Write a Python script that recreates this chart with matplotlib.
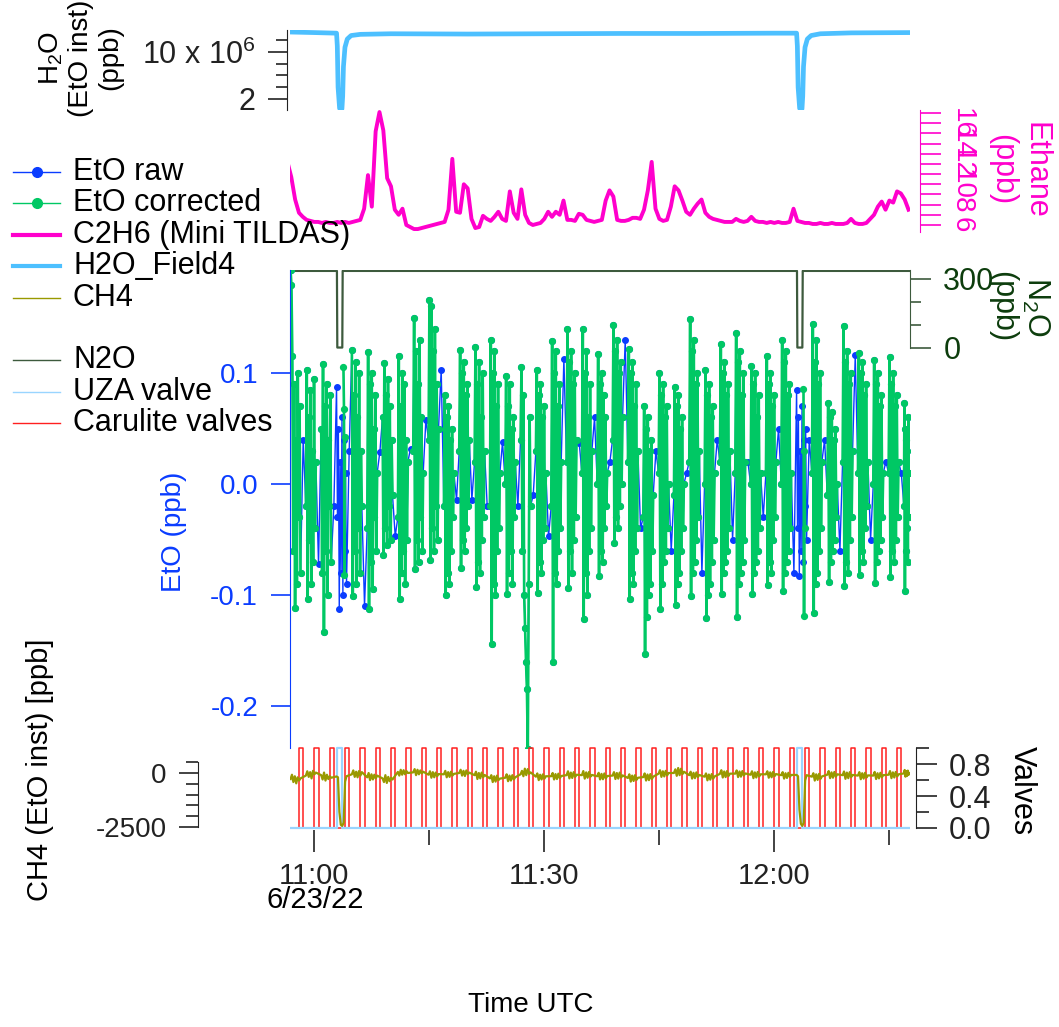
import numpy as np
import matplotlib.pyplot as plt
from matplotlib.lines import Line2D

plt.rcParams['font.family'] = ['Liberation Sans', 'DejaVu Sans']
plt.rcParams['mathtext.fontset'] = 'custom'
plt.rcParams['mathtext.rm'] = 'Liberation Sans'
plt.rcParams['font.size'] = 20
plt.rcParams['axes.unicode_minus'] = False

W, H = 1059, 1027

# time axis: minutes after 11:00 UTC, 6/23/22
XLIM = (-3.17, 77.69)

# instrument cycle: each EtO/CH4 measurement block ends at these minutes
cycle_end = [-2, 0, 2, 4, 6, 8, 10, 12, 14, 16, 18, 20, 22, 24, 26, 28, 30, 32, 34, 36,
             38, 40, 42, 44, 46, 48, 50, 52, 54, 56, 58, 60, 62, 64, 66, 68, 70, 72, 74, 76, 78]
uza_cycles = [4, 64]

# EtO corrected (ppt), one row per block ([] = zero-air block)
eto_corr_ppt = [
    [193, 179, 115, -60, 90, -112, 40, -90, 100, -30, 70, -80],
    [-20, 103, -104, 60, -50, 85, -90, 30, -70, 95, -40, 20],
    [50, -80, 108, -133, 70, -60, 90, -100, 40, -20, 80, -70],
    [],
    [121, -101, 80, -60, 110, -90, 60, -40, 100, -80, 30, -20],
    [-40, 119, -113, 90, -70, 100, -95, 50, -30, 80, -60, 10],
    [60, -64, 109, -40, 80, -55, 95, -20, 70, -50, 40, -10],
    [-30, 115, -104, 70, -80, 100, -60, 90, -90, 40, -50, 20],
    [30, 150, -77, 120, -50, 90, -70, 130, -30, 60, -60, 10],
    [40, 166, -68, 160, -40, 120, -60, 140, -20, 90, -50, 50],
    [-20, 80, -100, 60, -80, 70, -90, 40, -60, 50, -30, 10],
    [30, 121, -76, 100, -50, 110, -60, 80, -40, 90, -20, 40],
    [20, 123, -93, 90, -70, 110, -80, 60, -50, 100, -30, 30],
    [-20, 130, -144, 100, -90, 120, -100, 70, -60, 90, -40, 10],
    [0, 97, -99, 70, -80, 90, -60, 50, -90, 60, -30, 20],
    [40, 105, -60, 80, -100, -130, -160, -185, -239, -90, 60, -20],
    [30, 103, -98, 80, -70, 90, -80, 60, -50, 70, -40, 10],
    [-20, 129, -160, 100, -80, 120, -90, 70, -60, 90, -40, 20],
    [20, 140, -94, 110, -60, 120, -80, 90, -50, 100, -30, 40],
    [10, 140, -122, 100, -80, 120, -100, 60, -60, 90, -40, 30],
    [0, 117, -83, 90, -60, 100, -70, 80, -40, 60, -20, 10],
    [40, 143, -53, 120, -30, 130, -40, 100, -20, 110, 0, 60],
    [20, 122, -104, 100, -80, 110, -90, 70, -60, 90, -40, 30],
    [-30, 70, -153, 50, -120, 60, -100, 30, -90, 40, -60, -10],
    [10, 100, -113, 80, -90, 90, -70, 60, -60, 70, -40, 0],
    [-10, 87, -109, 70, -90, 80, -80, 50, -60, 60, -40, 0],
    [20, 149, -101, 120, -80, 130, -70, 90, -50, 100, -30, 30],
    [0, 103, -121, 80, -100, 90, -90, 60, -70, 70, -50, 10],
    [20, 126, -99, 100, -80, 110, -70, 80, -60, 90, -40, 30],
    [10, 136, -120, 110, -90, 120, -80, 80, -70, 100, -50, 20],
    [0, 106, -99, 90, -80, 100, -70, 60, -60, 80, -40, 10],
    [10, 115, -91, 90, -70, 100, -80, 70, -50, 80, -30, 20],
    [0, 130, -96, 110, -80, 120, -70, 80, -60, 90, -40, 10],
    [],
    [10, 144, -116, 110, -90, 130, -80, 90, -60, 100, -40, 20],
    [-10, 73, -88, 60, -70, 65, -60, 40, -50, 50, -30, 0],
    [20, 142, -92, 110, -70, 120, -80, 90, -50, 100, -30, 30],
    [10, 118, -82, 100, -60, 110, -70, 80, -40, 90, -20, 20],
    [0, 112, -89, 90, -70, 100, -60, 70, -50, 80, -30, 10],
    [10, 114, -84, 90, -60, 100, -70, 70, -50, 80, -30, 20],
    [-20, 73, -96, 50, -60, 40, -40, 30, -70, 60, -30, 10],
]
# EtO raw during the two zero-air (UZA) blocks (ppt)
eto_uza_raw_ppt = [
    [87, -30, 50, -113, 20, -80, 60, -100, 40, -60, 10, -90],
    [85, -40, 60, -83, 30, -60, 70, -70, 40, -20, 50, -50],
]
# short corrected bits right after each UZA block
uza_tail_t = [[3.80, 3.87, 3.93, 4.00], [63.80, 63.87, 63.93, 64.00]]
uza_tail_ppt = [[105, 68, -82, 42], [86, -119, 30, -40]]
# raw EtO point logged between blocks (ppt)
eto_gap_ppt = [40, -72, -20, 30, -110, 29, -47, 32, 58, 103,
               -14, -14, -20, 38, -20, -10, -47, 113, 37, 60,
               20, 130, -40, 30, -60, 10, -80, 40, -50, 20,
               -30, 50, -80, 40, 40, -60, 116, -50, 20, 10]

# CH4 from the EtO instrument (ppb), one row per block
ch4_ppb = [
    [-280, -80, -420, -150, -480, -200, -350, -250],
    [-120, 80, -180, 40, -250, 100, -60, 20],
    [-100, -300, 20, -350, -80, -280, -150, -220],
    [-160, -200, -1800, -2400, -2450, -2300, -400, -150],
    [-60, 120, -180, 60, -200, 90, -120, 40],
    [-200, 0, -330, -60, -300, -80, -250, -120],
    [-250, -420, -100, -460, -180, -380, -220, -300],
    [50, -120, 150, -80, 130, -60, 90, 0],
    [30, 180, -100, 150, -60, 120, -20, 60],
    [-80, 80, -220, 40, -200, 20, -150, -50],
    [-60, 100, -200, 40, -180, 60, -120, -40],
    [0, 150, -120, 100, -140, 120, -60, 20],
    [-100, 60, -280, 0, -250, 20, -200, -90],
    [-250, -100, -420, -150, -400, -120, -330, -260],
    [-220, -60, -380, -120, -350, -100, -300, -200],
    [-60, 100, -150, 200, -100, 180, -40, 30],
    [-170, -20, -330, -80, -300, -60, -260, -150],
    [-150, 0, -300, -50, -280, -30, -240, -140],
    [-100, 80, -250, 20, -230, 40, -180, -80],
    [-100, 90, -260, 30, -220, 50, -170, -90],
    [-150, 10, -300, -40, -290, -20, -250, -140],
    [-120, 40, -280, 0, -260, 20, -210, -110],
    [-230, -60, -400, -120, -370, -100, -320, -220],
    [-190, -20, -350, -70, -330, -50, -280, -170],
    [-30, 130, -180, 80, -160, 100, -110, 0],
    [0, 170, -130, 230, -100, 200, -50, 60],
    [-100, 60, -260, 10, -240, 30, -190, -90],
    [-170, -20, -340, -70, -310, -50, -260, -160],
    [-40, 130, -210, 70, -190, 90, -140, -30],
    [-30, 120, -190, 70, -170, 90, -120, -20],
    [-80, 80, -240, 30, -210, 50, -160, -60],
    [-60, 80, -220, 30, -200, 50, -150, -50],
    [-100, 40, -260, -10, -230, 10, -180, -90],
    [-90, -150, -1700, -2350, -2450, -2300, -350, -100],
    [-170, -10, -350, -60, -320, -40, -270, -160],
    [-80, 90, -240, 30, -220, 50, -170, -60],
    [-100, 70, -270, 20, -240, 40, -190, -90],
    [-120, 40, -290, -10, -260, 10, -210, -110],
    [-120, 50, -280, -10, -250, 10, -200, -100],
    [-80, 90, -240, 30, -210, 50, -160, -60],
    [-20, 140, -170, 90, -140, 110, -90, 0],
]

# Ethane (Mini TILDAS), ppb, every 0.5 min from -3.5 min
ethane_ppb = [
    12.2, 10.7, 8.5, 7.2, 6.8, 6.5, 6.4, 6.3, 6.3, 6.2, 6.3, 6.2, 6.2, 6.3, 6.2, 6.3,
    6.2, 6.3, 6.4, 6.5, 7.6, 10.9, 7.8, 15.2, 17.1, 15.3, 10.6, 9.8, 7.5, 7.0, 7.6, 6.0,
    5.8, 5.6, 5.6, 5.7, 5.8, 5.9, 6.0, 6.1, 6.2, 6.3, 7.5, 12.5, 7.3, 7.2, 10.0, 9.6,
    6.6, 5.7, 5.8, 6.9, 6.6, 6.4, 6.8, 7.3, 6.6, 6.4, 9.3, 7.2, 6.6, 9.5, 7.0, 6.2,
    6.0, 6.1, 6.2, 6.6, 7.3, 6.8, 7.3, 7.0, 8.4, 6.5, 6.5, 6.4, 7.1, 7.0, 6.5, 6.4,
    6.3, 6.4, 6.5, 8.4, 9.4, 8.8, 6.5, 6.4, 6.4, 6.5, 6.7, 6.7, 6.6, 7.5, 9.4, 12.2,
    7.6, 6.6, 6.4, 6.5, 7.8, 9.8, 9.4, 8.4, 7.3, 7.0, 7.6, 8.1, 8.5, 7.2, 6.8, 6.6,
    6.5, 6.4, 6.3, 6.3, 6.3, 6.6, 6.4, 6.3, 6.4, 6.8, 6.4, 6.3, 6.3, 6.2, 6.3, 6.2,
    6.3, 6.2, 6.2, 6.3, 7.6, 6.4, 6.3, 6.2, 6.2, 6.1, 6.1, 6.2, 6.1, 6.1, 6.2, 6.1,
    6.1, 6.1, 6.2, 6.6, 6.2, 6.1, 6.1, 6.2, 6.6, 7.0, 7.8, 8.3, 7.5, 8.4, 8.2, 9.3,
    9.1, 8.5, 7.5,
]

# H2O (EtO instrument), units of 1e6 ppb
h2o_t = [-3.3, 0, 2.9, 3.0, 3.1, 3.3, 3.6, 3.7, 3.8, 4.0, 4.3, 4.8, 6, 10, 20, 30, 40, 50,
         60, 62.9, 63.0, 63.1, 63.3, 63.6, 63.7, 63.8, 64.0, 64.3, 64.8, 66, 70, 77.7]
h2o_e6 = [13.4, 13.3, 13.2, 11.0, 4.0, 0.4, 0.3, 2.5, 7.5, 10.8, 12.2, 12.8, 13.0, 13.1,
          13.05, 13.1, 13.15, 13.15, 13.2, 13.2, 11.0, 4.0, 0.4, 0.3, 2.5, 7.5, 10.8,
          12.2, 12.8, 13.1, 13.25, 13.3]

# N2O (ppb)
n2o_t = [-3.3, 2.95, 3.0, 3.65, 3.7, 62.95, 63.0, 63.65, 63.7, 77.7]
n2o_ppb = [335, 335, 2, 2, 335, 335, 2, 2, 335, 335]

# valve schedule (minutes the valve opens)
carulite_on = [-2, 0, 2, 4, 6, 8, 10, 12, 14, 16, 18, 20, 22, 24, 26, 28, 30, 32, 34, 36,
               38, 40, 42, 44, 46, 48, 50, 52, 54, 56, 58, 60, 62, 64, 66, 68, 70, 72, 74, 76]
carulite_dur = 0.55
uza_on = [3.0, 63.0]
uza_dur = 0.6

C_RAW = '#0a3cff'
C_CORR = '#00c864'
C_ETH = '#ff00cc'
C_H2O = '#4dc0ff'
C_CH4 = '#999900'
C_N2O = '#3d5a3d'
C_N2O_TXT = '#0d3d0d'
C_UZA = '#99d5ff'
C_CAR = '#ff2020'
C_AX = '#222222'


def px_box(x0, y0, x1, y1):
    return [x0 / W, 1 - y1 / H, (x1 - x0) / W, (y1 - y0) / H]


def fxy(x, y):
    return x / W, 1 - y / H


def col_times(p, n):
    return np.linspace(p - 1.1, min(p + 0.2, 77.6), n)


def pulses(starts, dur):
    xs, ys = [XLIM[0] - 1], [0]
    for s in starts:
        xs += [s, s, s + dur, s + dur]
        ys += [0, 1, 1, 0]
    xs.append(XLIM[1] + 1)
    ys.append(0)
    return xs, ys


fig = plt.figure(figsize=(W / 100, H / 100), dpi=100)

ax_h2o = fig.add_axes(px_box(290, 30, 910, 110))
ax_eth = fig.add_axes(px_box(290, 110, 910, 232))
ax_n2o = fig.add_axes(px_box(290, 270, 910, 350))
ax_eto = fig.add_axes(px_box(290, 270, 910, 748))
ax_ch4 = fig.add_axes(px_box(290, 746, 910, 830))
ax_vlv = ax_ch4.twinx()

for ax in [ax_h2o, ax_eth, ax_n2o, ax_eto, ax_ch4, ax_vlv]:
    ax.set_xlim(XLIM)
    ax.patch.set_visible(False)
    for s in ax.spines.values():
        s.set_visible(False)
    ax.tick_params(which='both', bottom=False, labelbottom=False, top=False,
                   left=False, labelleft=False, right=False, labelright=False,
                   direction='out', width=1.2, pad=9)

# --- H2O panel
ax_h2o.plot(h2o_t, h2o_e6, color=C_H2O, lw=3.4, solid_capstyle='round')
ax_h2o.set_ylim(0.128, 13.74)
ax_h2o.spines['left'].set_visible(True)
ax_h2o.spines['left'].set_color(C_AX)
ax_h2o.spines['left'].set_position(('outward', 2))
ax_h2o.set_yticks([2, 10])
ax_h2o.set_yticklabels(['2', '10 x 10$^6$'])
ax_h2o.set_yticks([4, 6, 8, 12], minor=True)
ax_h2o.tick_params(which='both', left=True, labelleft=True, colors=C_AX, labelsize=22)
ax_h2o.tick_params(which='major', length=14)
ax_h2o.tick_params(which='minor', length=8)

# --- Ethane panel
eth_t = np.arange(len(ethane_ppb)) * 0.5 - 3.5
ax_eth.plot(eth_t, ethane_ppb, color=C_ETH, lw=2.8)
ax_eth.set_ylim(5.31, 17.3)
ax_eth.spines['right'].set_visible(True)
ax_eth.spines['right'].set_color(C_ETH)
ax_eth.spines['right'].set_position(('outward', 7))
ax_eth.set_yticks([6, 8, 10, 12, 14, 16])
ax_eth.set_yticklabels(['6', '8', '10', '12', '14', '16'], rotation=-90, va='center')
ax_eth.set_yticks([7, 9, 11, 13, 15, 17], minor=True)
ax_eth.tick_params(which='both', right=True, labelright=True, colors=C_ETH,
                   length=15, labelsize=20, pad=6)

# --- N2O panel
ax_n2o.plot(n2o_t, n2o_ppb, color=C_N2O, lw=1.6)
ax_n2o.set_ylim(-8.7, 339)
ax_n2o.spines['right'].set_visible(True)
ax_n2o.spines['right'].set_color(C_N2O)
ax_n2o.spines['right'].set_bounds(0, 339)
ax_n2o.set_yticks([0, 300])
ax_n2o.set_yticklabels(['0', '300'])
ax_n2o.set_yticks([100, 200], minor=True)
ax_n2o.tick_params(which='both', right=True, labelright=True, colors=C_N2O, labelsize=22)
ax_n2o.tick_params(which='both', labelcolor=C_N2O_TXT)
ax_n2o.tick_params(which='major', length=15)
ax_n2o.tick_params(which='minor', length=8)

# --- EtO panel
raw_t, raw_v = [], []
corr_t, corr_v = [], []
uza_i = 0
for i, p in enumerate(cycle_end):
    tt = col_times(p, 12)
    if p in uza_cycles:
        raw_t += list(tt)
        raw_v += eto_uza_raw_ppt[uza_i]
        corr_t += uza_tail_t[uza_i] + [np.nan]
        corr_v += uza_tail_ppt[uza_i] + [np.nan]
        uza_i += 1
    else:
        raw_t += list(tt)
        raw_v += eto_corr_ppt[i]
        corr_t += list(tt) + [np.nan]
        corr_v += eto_corr_ppt[i] + [np.nan]
    if i < len(eto_gap_ppt):
        raw_t.append(p + 0.55)
        raw_v.append(eto_gap_ppt[i])

ax_eto.plot(raw_t, np.array(raw_v) / 1000.0, '-o', color=C_RAW, lw=1.0, ms=4.0)
ax_eto.plot(corr_t, np.array(corr_v, dtype=float) / 1000.0, '-o', color=C_CORR,
            lw=1.9, ms=4.2)
ax_eto.set_ylim(-0.2378, 0.1928)
ax_eto.spines['left'].set_visible(True)
ax_eto.spines['left'].set_color(C_RAW)
ax_eto.set_yticks([-0.2, -0.1, 0.0, 0.1])
ax_eto.set_yticklabels(['-0.2', '-0.1', '0.0', '0.1'])
ax_eto.tick_params(which='major', left=True, labelleft=True, colors=C_RAW, length=14)

# --- CH4 + valves panel
ch4_t, ch4_v = [], []
for i, p in enumerate(cycle_end):
    ch4_t += list(col_times(p, 8))
    ch4_v += ch4_ppb[i]

cx, cy = pulses(carulite_on, carulite_dur)
ux, uy = pulses(uza_on, uza_dur)
ax_vlv.plot(cx, cy, color=C_CAR, lw=1.1)
ax_vlv.plot(ux, uy, color=C_UZA, lw=1.6)
ax_vlv.set_ylim(-0.025, 1.025)
ax_vlv.spines['right'].set_visible(True)
ax_vlv.spines['right'].set_color(C_AX)
ax_vlv.spines['right'].set_position(('outward', 4))
ax_vlv.spines['right'].set_bounds(0, 1.0)
ax_vlv.set_yticks([0, 0.4, 0.8])
ax_vlv.set_yticklabels(['0.0', '0.4', '0.8'])
ax_vlv.set_yticks([0.2, 0.6, 1.0], minor=True)
ax_vlv.tick_params(which='both', right=True, labelright=True, colors=C_AX, labelsize=22)
ax_vlv.tick_params(which='major', length=15)
ax_vlv.tick_params(which='minor', length=9)

ax_ch4.plot(ch4_t, ch4_v, color=C_CH4, lw=1.6, zorder=5)
ax_ch4.set_zorder(ax_vlv.get_zorder() + 1)
ax_ch4.set_ylim(-2639, 1250)
ax_ch4.spines['left'].set_visible(True)
ax_ch4.spines['left'].set_color(C_AX)
ax_ch4.spines['left'].set_position(('outward', 66))
ax_ch4.spines['left'].set_bounds(-2500, 500)
ax_ch4.set_yticks([-2500, 0])
ax_ch4.set_yticklabels(['-2500', '0'])
ax_ch4.set_yticks([-2000, -1500, -1000, -500, 500], minor=True)
ax_ch4.tick_params(which='both', left=True, labelleft=True, colors=C_AX)
ax_ch4.tick_params(which='major', axis='y', length=14)
ax_ch4.tick_params(which='minor', axis='y', length=9)

ax_ch4.set_xticks([0, 30, 60])
ax_ch4.set_xticklabels(['11:00', '11:30', '12:00'])
ax_ch4.set_xticks([15, 45, 75], minor=True)
ax_ch4.tick_params(axis='x', which='both', bottom=True, labelbottom=True, colors=C_AX,
                   labelsize=21, pad=7)
ax_ch4.tick_params(axis='x', which='major', length=16)
ax_ch4.tick_params(axis='x', which='minor', length=11)

# --- axis titles
fig.text(*fxy(80, 58), 'H$_2$O\n(EtO inst)\n(ppb)', rotation=90, ha='center',
         va='center', multialignment='center', linespacing=1.15)
fig.text(*fxy(1019, 170), 'Ethane\n(ppb)', rotation=270, ha='center', va='center',
         multialignment='center', color=C_ETH, linespacing=1.15, fontsize=22)
fig.text(*fxy(1019, 307), 'N$_2$O\n(ppb)', rotation=270, ha='center', va='center',
         multialignment='center', color=C_N2O_TXT, linespacing=1.15, fontsize=22)
fig.text(*fxy(174, 532), 'EtO (ppb)', rotation=90, ha='center', va='center', color=C_RAW)
fig.text(*fxy(40, 770), 'CH4 (EtO inst) [ppb]', rotation=90, ha='center', va='center',
         fontsize=21)
fig.text(*fxy(1022, 791), 'Valves', rotation=270, ha='center', va='center', fontsize=22)
fig.text(*fxy(315, 900), '6/23/22', ha='center', va='center', fontsize=21)
fig.text(*fxy(531, 1005), 'Time UTC', ha='center', va='center')

# --- legend, drawn by hand at the upper left
legend_items = [
    ('EtO raw', C_RAW, 1.0, 'o'),
    ('EtO corrected', C_CORR, 1.0, 'o'),
    ('C2H6 (Mini TILDAS)', C_ETH, 3.0, None),
    ('H2O_Field4', C_H2O, 3.0, None),
    ('CH4', C_CH4, 1.0, None),
    (None, None, None, None),
    ('N2O', C_N2O, 1.0, None),
    ('UZA valve', C_UZA, 1.0, None),
    ('Carulite valves', C_CAR, 1.0, None),
]
for k, (label, color, lw, marker) in enumerate(legend_items):
    y = 172 + 31.4 * k
    if label is None:
        continue
    x0, yy = fxy(13, y)
    x1, _ = fxy(60, y)
    fig.add_artist(Line2D([x0, x1], [yy, yy], color=color, lw=lw,
                          transform=fig.transFigure))
    if marker:
        xm, _ = fxy(37, y)
        fig.add_artist(Line2D([xm], [yy], color=color, marker=marker, ms=7,
                              transform=fig.transFigure))
    fig.text(*fxy(73, y), label, ha='left', va='center', fontsize=22)

fig.savefig('out.png', dpi=100)
